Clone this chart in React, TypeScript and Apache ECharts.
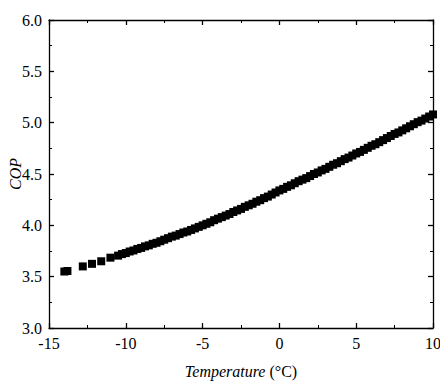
import React, { useEffect, useRef } from "react";
import * as echarts from "echarts";

const temperatures: number[] = [
  -14.0, -13.8, -12.8, -12.2, -11.6, -11.0,
  -10.5, -10.25, -10.0, -9.75, -9.5, -9.25, -9.0, -8.75, -8.5, -8.25, -8.0, -7.75,
  -7.5, -7.25, -7.0, -6.75, -6.5, -6.25, -6.0, -5.75, -5.5, -5.25, -5.0,
  -4.75, -4.5, -4.25, -4.0, -3.75, -3.5, -3.25, -3.0, -2.75, -2.5, -2.25, -2.0,
  -1.75, -1.5, -1.25, -1.0, -0.75, -0.5, -0.25, 0.0,
  0.25, 0.5, 0.75, 1.0, 1.25, 1.5, 1.75, 2.0, 2.25, 2.5, 2.75, 3.0,
  3.25, 3.5, 3.75, 4.0, 4.25, 4.5, 4.75, 5.0,
  5.25, 5.5, 5.75, 6.0, 6.25, 6.5, 6.75, 7.0, 7.25, 7.5, 7.75, 8.0,
  8.25, 8.5, 8.75, 9.0, 9.25, 9.5, 9.75, 10.0,
];
const cop: number[] = [
  3.55, 3.555, 3.6, 3.625, 3.65, 3.685,
  3.705, 3.72, 3.73, 3.745, 3.755, 3.77, 3.78, 3.795, 3.805, 3.82, 3.83, 3.845,
  3.86, 3.875, 3.89, 3.9, 3.915, 3.93, 3.94, 3.955, 3.97, 3.985, 4.0,
  4.015, 4.03, 4.05, 4.065, 4.08, 4.095, 4.11, 4.13, 4.145, 4.16, 4.18, 4.195,
  4.21, 4.23, 4.245, 4.265, 4.28, 4.3, 4.32, 4.34,
  4.355, 4.375, 4.39, 4.41, 4.43, 4.445, 4.46, 4.48, 4.5, 4.515, 4.535, 4.55,
  4.57, 4.59, 4.605, 4.625, 4.645, 4.66, 4.68, 4.7,
  4.715, 4.735, 4.755, 4.775, 4.79, 4.81, 4.83, 4.85, 4.87, 4.89, 4.905, 4.925,
  4.945, 4.965, 4.985, 5.005, 5.02, 5.04, 5.06, 5.08,
];

const xTicks = { min: -15, max: 10, interval: 5 };
const yTicks = { min: 3.0, max: 6.0, interval: 0.5 };

export default function App() {
  const ref = useRef<HTMLDivElement>(null);
  useEffect(() => {
    if (!ref.current) return;
    const chart = echarts.init(ref.current, undefined, { renderer: "svg" });
    const font = "Liberation Serif, Times New Roman, serif";
    const lineStyle = { color: "#000", width: 1.3 };
    const common = {
      axisLine: { show: true, onZero: false, lineStyle },
      axisTick: { show: true, inside: true, length: 5, lineStyle },
      minorTick: { show: true, splitNumber: 2, length: 3, lineStyle: { color: "#000", width: 1 } },
      splitLine: { show: false },
    };
    chart.setOption({
      animation: false,
      backgroundColor: "#fff",
      textStyle: { fontFamily: font },
      grid: { left: 41, top: 12, right: 7, bottom: 53, containLabel: false, outerBoundsMode: "none" },
      xAxis: [
        {
          type: "value",
          position: "bottom",
          ...xTicks,
          ...common,
          axisLabel: {
            color: "#000",
            fontFamily: font,
            fontSize: 16,
            margin: 7,
            formatter: (v: number) => String(v),
          },
          name: "{i|Temperature} (°C)",
          nameLocation: "middle",
          nameGap: 35,
          nameMoveOverlap: false,
          nameTextStyle: {
            color: "#000",
            fontFamily: font,
            fontSize: 16,
            rich: { i: { fontStyle: "italic", fontFamily: font, fontSize: 16, color: "#000" } },
          },
        },
        {
          type: "value",
          position: "top",
          ...xTicks,
          ...common,
          axisLabel: { show: false },
        },
      ],
      yAxis: [
        {
          type: "value",
          position: "left",
          ...yTicks,
          ...common,
          axisLabel: {
            color: "#000",
            fontFamily: font,
            fontSize: 16,
            margin: 7,
            formatter: (v: number) => v.toFixed(1),
          },
          name: "COP",
          nameLocation: "middle",
          nameGap: 26,
          nameMoveOverlap: false,
          nameTextStyle: { color: "#000", fontFamily: font, fontSize: 16, fontStyle: "italic" },
        },
        {
          type: "value",
          position: "right",
          ...yTicks,
          ...common,
          axisLabel: { show: false },
        },
      ],
      series: [
        {
          type: "scatter",
          xAxisIndex: 0,
          yAxisIndex: 0,
          symbol: "rect",
          symbolSize: 8,
          itemStyle: { color: "#000", opacity: 1 },
          data: temperatures.map((t, i) => [t, cop[i]]),
        },
      ],
    });
    return () => chart.dispose();
  }, []);
  return <div ref={ref} style={{ width: 432, height: 373 }} />;
}
